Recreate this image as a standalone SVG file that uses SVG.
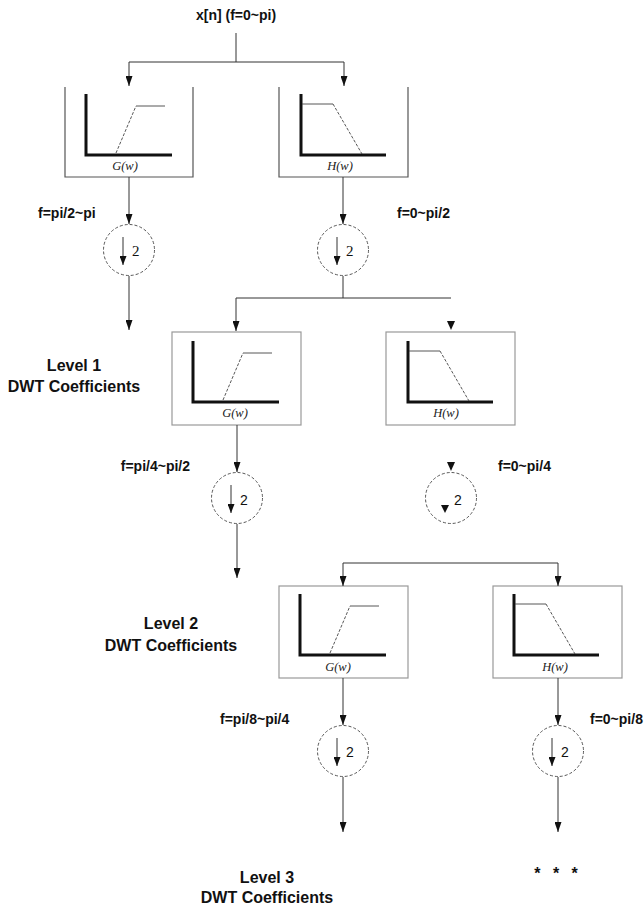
<svg xmlns="http://www.w3.org/2000/svg" width="644" height="907" viewBox="0 0 644 907">
<style>
  .ln{stroke:#333;stroke-width:1;fill:none}
  .box{stroke:#999;stroke-width:1.2;fill:#fff}
  .ubox{stroke:#555;stroke-width:1.2;fill:none}
  .axis{stroke:#111;stroke-width:3;fill:none}
  .thin{stroke:#444;stroke-width:0.9;fill:none}
  .dash{stroke:#444;stroke-width:0.9;fill:none;stroke-dasharray:3 1.6}
  .circ{stroke:#444;stroke-width:0.9;fill:#fff;stroke-dasharray:3 2}
  .lbl{font-family:"Liberation Sans",Arial,sans-serif;font-weight:bold;font-size:14px;fill:#111}
  .big{font-family:"Liberation Sans",Arial,sans-serif;font-weight:bold;font-size:16px;fill:#111;text-anchor:middle}
  .fn{font-family:"Liberation Serif","Times New Roman",serif;font-style:italic;font-size:12.5px;fill:#222;text-anchor:middle}
  .two{font-family:"Liberation Sans",Arial,sans-serif;font-size:14px;fill:#111}
  .twos{font-family:"Liberation Serif","Times New Roman",serif;font-size:15px;fill:#111}
  .ah{fill:#111}
</style>
<defs>
  <marker id="arr" viewBox="0 0 10 7" refX="10" refY="3.5" markerWidth="10" markerHeight="7" markerUnits="userSpaceOnUse" orient="auto" preserveAspectRatio="none">
    <path d="M0,0 L10,3.5 L0,7 z" fill="#111"/>
  </marker>
  <marker id="arrs" viewBox="0 0 10 7" refX="10" refY="3.5" markerWidth="9" markerHeight="7" markerUnits="userSpaceOnUse" orient="auto" preserveAspectRatio="none">
    <path d="M0,0 L10,3.5 L0,7 z" fill="#111"/>
  </marker>
  <g id="gG">
    <path class="axis" d="M0,-61 V0 H86"/>
    <path class="dash" d="M30,-2 L50,-49"/>
    <path class="thin" d="M50,-49 H79"/>
  </g>
  <g id="gH">
    <path class="axis" d="M0,-61 V0 H85"/>
    <path class="thin" d="M1,-51 H32"/>
    <path class="dash" d="M32,-51 L61,-1"/>
  </g>
</defs>

<!-- input label -->
<text class="lbl" x="236" y="20" text-anchor="middle">x[n] (f=0~pi)</text>

<!-- Top filters -->
<g id="topG">
  <path class="ubox" d="M65,87 V177 H193 V87"/>
  <use href="#gG" x="86" y="155"/>
  <text class="fn" x="125" y="170">G(w)</text>
</g>
<g id="topH">
  <path class="ubox" d="M279,87 V177 H408 V87"/>
  <use href="#gH" x="301" y="155"/>
  <text class="fn" x="340" y="170">H(w)</text>
</g>

<!-- Top downsamplers -->
<g id="ds0L">
  <circle class="circ" cx="129" cy="250" r="25.5"/>
  <line class="ln" x1="123" y1="237" x2="123" y2="265" marker-end="url(#arrs)"/>
  <text class="twos" x="132" y="256">2</text>
</g>
<g id="ds0R">
  <circle class="circ" cx="343" cy="250" r="25.5"/>
  <line class="ln" x1="337" y1="237" x2="337" y2="265" marker-end="url(#arrs)"/>
  <text class="twos" x="346" y="256">2</text>
</g>
<text class="lbl" x="38" y="218">f=pi/2~pi</text>
<text class="lbl" x="397" y="218">f=0~pi/2</text>

<!-- Level 1 filters -->
<g id="l1G">
  <rect class="box" x="172" y="332" width="129" height="93"/>
  <use href="#gG" x="193" y="402"/>
  <text class="fn" x="235" y="417">G(w)</text>
</g>
<g id="l1H">
  <rect class="box" x="386" y="332" width="129" height="93"/>
  <use href="#gH" x="408" y="402"/>
  <text class="fn" x="446" y="417">H(w)</text>
</g>
<text class="big" x="74" y="371">Level 1</text>
<text class="big" x="74" y="392">DWT Coefficients</text>

<!-- Level 1 downsamplers -->
<g id="ds1L">
  <circle class="circ" cx="237" cy="498" r="25.5"/>
  <line class="ln" x1="231" y1="485" x2="231" y2="513" marker-end="url(#arrs)"/>
  <text class="two" x="240" y="505">2</text>
</g>
<g id="ds1R">
  <circle class="circ" cx="451" cy="498" r="25.5"/>
  <polygon class="ah" points="441,505 449,505 445,513"/>
  <text class="two" x="454" y="505">2</text>
</g>
<text class="lbl" x="190" y="471" text-anchor="end">f=pi/4~pi/2</text>
<text class="lbl" x="498" y="471">f=0~pi/4</text>

<!-- Level 2 filters -->
<g id="l2G">
  <rect class="box" x="279" y="586" width="129" height="92"/>
  <use href="#gG" x="300" y="655"/>
  <text class="fn" x="338" y="671">G(w)</text>
</g>
<g id="l2H">
  <rect class="box" x="493" y="586" width="129" height="92"/>
  <use href="#gH" x="514" y="655"/>
  <text class="fn" x="555" y="671">H(w)</text>
</g>
<text class="big" x="171" y="629">Level 2</text>
<text class="big" x="171" y="651">DWT Coefficients</text>

<!-- Level 2 downsamplers -->
<g id="ds2L">
  <circle class="circ" cx="343" cy="751" r="25.5"/>
  <line class="ln" x1="337" y1="738" x2="337" y2="766" marker-end="url(#arrs)"/>
  <text class="two" x="346" y="757">2</text>
</g>
<g id="ds2R">
  <circle class="circ" cx="558" cy="751" r="25.5"/>
  <line class="ln" x1="552" y1="738" x2="552" y2="766" marker-end="url(#arrs)"/>
  <text class="two" x="561" y="757">2</text>
</g>
<text class="lbl" x="220" y="724">f=pi/8~pi/4</text>
<text class="lbl" x="590" y="724">f=0~pi/8</text>

<text class="big" x="267" y="883">Level 3</text>
<text class="big" x="267" y="903">DWT Coefficients</text>
<text class="lbl" x="556" y="879" text-anchor="middle" style="font-size:16px;word-spacing:8px">* * *</text>

<!-- Connectors -->
<g id="connectors">
  <path class="ln" d="M236,33 V62"/>
  <path class="ln" d="M129,62 H344"/>
  <line class="ln" x1="129" y1="62" x2="129" y2="86" marker-end="url(#arr)"/>
  <line class="ln" x1="344" y1="62" x2="344" y2="86" marker-end="url(#arr)"/>
  <line class="ln" x1="129" y1="177" x2="129" y2="224" marker-end="url(#arr)"/>
  <line class="ln" x1="343" y1="177" x2="343" y2="224" marker-end="url(#arr)"/>
  <line class="ln" x1="129" y1="276" x2="129" y2="330" marker-end="url(#arr)"/>
  <path class="ln" d="M343,276 V298"/>
  <path class="ln" d="M236,298 H451"/>
  <line class="ln" x1="236" y1="298" x2="236" y2="331" marker-end="url(#arr)"/>
  <polygon class="ah" points="447,321 455,321 451,330"/>
  <line class="ln" x1="237" y1="425" x2="237" y2="472" marker-end="url(#arr)"/>
  <polygon class="ah" points="447,462 455,462 451,471"/>
  <line class="ln" x1="237" y1="524" x2="237" y2="578" marker-end="url(#arr)"/>
  <path class="ln" d="M343,563 H558"/>
  <line class="ln" x1="343" y1="563" x2="343" y2="586" marker-end="url(#arr)"/>
  <line class="ln" x1="558" y1="563" x2="558" y2="586" marker-end="url(#arr)"/>
  <line class="ln" x1="343" y1="678" x2="343" y2="725" marker-end="url(#arr)"/>
  <line class="ln" x1="558" y1="678" x2="558" y2="725" marker-end="url(#arr)"/>
  <line class="ln" x1="343" y1="777" x2="343" y2="832" marker-end="url(#arr)"/>
  <line class="ln" x1="558" y1="777" x2="558" y2="832" marker-end="url(#arr)"/>
</g>
</svg>
